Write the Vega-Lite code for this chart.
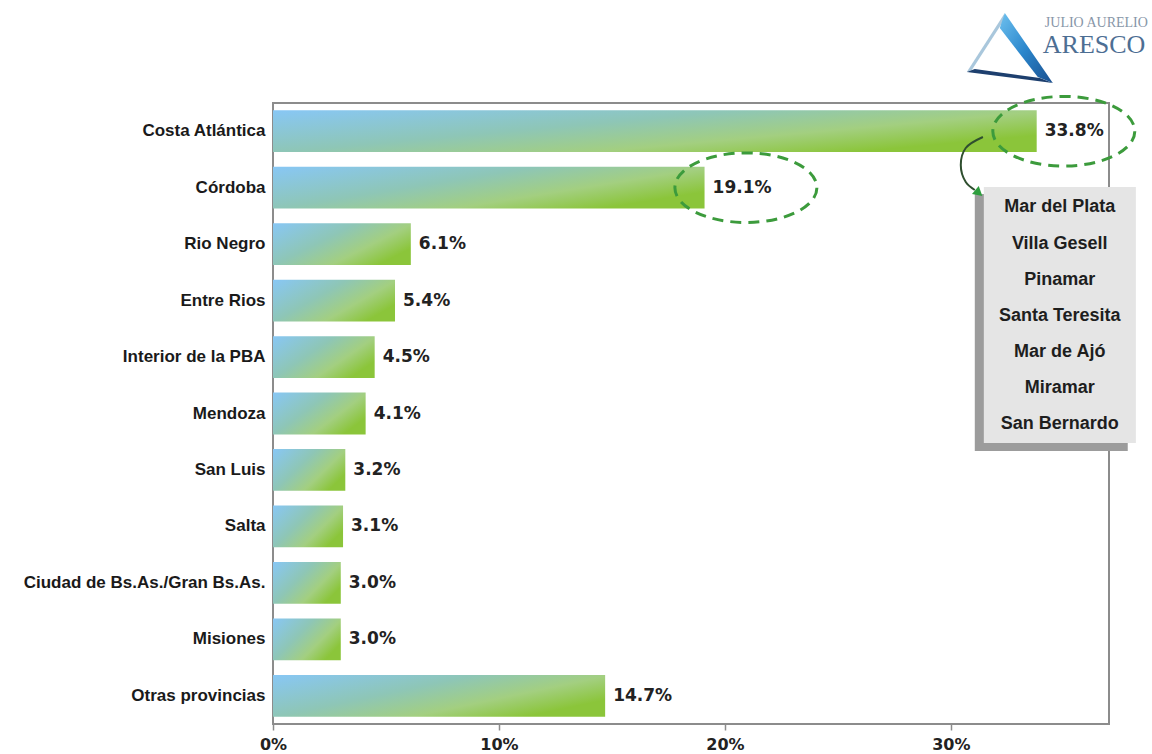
{
  "$schema": "https://vega.github.io/schema/vega-lite/v6.json",
  "width": 836,
  "height": 621,
  "autosize": {"type": "none"},
  "padding": {"left": 273, "top": 103, "right": 43, "bottom": 30},
  "background": "white",
  "config": {
    "view": {"stroke": "#8c8c8c", "strokeWidth": 2, "fill": "white"},
    "scale": {"bandPaddingInner": 0.26, "bandPaddingOuter": 0.13}
  },
  "datasets": {
    "shares": [
      {"cat": "Costa Atlántica", "share": 0.338},
      {"cat": "Córdoba", "share": 0.191},
      {"cat": "Rio Negro", "share": 0.061},
      {"cat": "Entre Rios", "share": 0.054},
      {"cat": "Interior de la PBA", "share": 0.045},
      {"cat": "Mendoza", "share": 0.041},
      {"cat": "San Luis", "share": 0.032},
      {"cat": "Salta", "share": 0.031},
      {"cat": "Ciudad de Bs.As./Gran Bs.As.", "share": 0.030},
      {"cat": "Misiones", "share": 0.030},
      {"cat": "Otras provincias", "share": 0.147}
    ],
    "rings": [
      {"cat": "Costa Atlántica", "cx": 0.350},
      {"cat": "Córdoba", "cx": 0.2093}
    ],
    "shadow": [{"x1": 0.3106, "x2": 0.3783, "y1": 1.612, "y2": 6.165}],
    "box": [{"x1": 0.3146, "x2": 0.3819, "y1": 1.488, "y2": 6.023}],
    "places": [
      {"name": "Mar del Plata", "px": 0.3482, "py": 1.842},
      {"name": "Villa Gesell", "px": 0.3482, "py": 2.489},
      {"name": "Pinamar", "px": 0.3482, "py": 3.136},
      {"name": "Santa Teresita", "px": 0.3482, "py": 3.773},
      {"name": "Mar de Ajó", "px": 0.3482, "py": 4.411},
      {"name": "Miramar", "px": 0.3482, "py": 5.049},
      {"name": "San Bernardo", "px": 0.3482, "py": 5.686}
    ],
    "arrow": [
      {"i": 0, "ax": 0.3142, "ay": 0.602},
      {"i": 1, "ax": 0.3066, "ay": 0.797},
      {"i": 2, "ax": 0.3044, "ay": 1.098},
      {"i": 3, "ax": 0.3066, "ay": 1.399},
      {"i": 4, "ax": 0.3106, "ay": 1.541}
    ],
    "arrowhead": [{"ax": 0.3124, "ay": 1.594}],
    "logo": [{"lx": 0.3261, "ly": -0.974}],
    "logotext": [
      {"t": "JULIO AURELIO", "tx": 0.3416, "ty": -1.417, "kind": "small"},
      {"t": "ARESCO", "tx": 0.3407, "ty": -1.028, "kind": "big"}
    ]
  },
  "layer": [
    {
      "layer": [
        {
          "data": {"name": "shares"},
          "mark": {
            "type": "bar",
            "fill": {
              "gradient": "linear",
              "x1": 0, "y1": 0, "x2": 1, "y2": 0.6,
              "stops": [
                {"offset": 0, "color": "#88C7F5"},
                {"offset": 0.45, "color": "#8EC6B6"},
                {"offset": 0.75, "color": "#A3CF80"},
                {"offset": 1, "color": "#8BC53A"}
              ]
            }
          },
          "encoding": {
            "y": {
              "field": "cat", "type": "nominal",
              "scale": {"domain": ["Costa Atlántica", "Córdoba", "Rio Negro", "Entre Rios", "Interior de la PBA", "Mendoza", "San Luis", "Salta", "Ciudad de Bs.As./Gran Bs.As.", "Misiones", "Otras provincias"]},
              "axis": {
                "title": null, "ticks": false, "domain": false, "grid": false,
                "labelFont": "Liberation Sans", "labelFontWeight": "bold",
                "labelFontSize": 17, "labelColor": "#1a1a1a", "labelPadding": 8,
                "labelLimit": 400
              }
            },
            "x": {
              "field": "share", "type": "quantitative",
              "scale": {"domain": [0, 0.37], "nice": false},
              "axis": {
                "title": null, "values": [0, 0.1, 0.2, 0.3], "format": ".0%",
                "grid": false, "domain": false, "ticks": true, "labelFlush": false,
                "tickColor": "#8c8c8c", "tickSize": 6, "tickWidth": 1.5,
                "labelFont": "DejaVu Sans", "labelFontWeight": "bold",
                "labelFontSize": 16, "labelColor": "#222222", "labelPadding": 6
              }
            }
          }
        },
        {
          "data": {"name": "shares"},
          "mark": {
            "type": "text", "align": "left", "baseline": "middle", "dx": 8,
            "font": "DejaVu Sans", "fontWeight": "bold", "fontSize": 17, "color": "#222222"
          },
          "encoding": {
            "y": {"field": "cat", "type": "nominal", "scale": {"domain": ["Costa Atlántica", "Córdoba", "Rio Negro", "Entre Rios", "Interior de la PBA", "Mendoza", "San Luis", "Salta", "Ciudad de Bs.As./Gran Bs.As.", "Misiones", "Otras provincias"]}},
            "x": {"field": "share", "type": "quantitative", "scale": {"domain": [0, 0.37], "nice": false}},
            "text": {"field": "share", "type": "quantitative", "format": ".1%"}
          }
        },
        {
          "data": {"name": "rings"},
          "mark": {
            "type": "point", "filled": false,
            "shape": "M1,0C1,0.271,0.552,0.49,0,0.49C-0.552,0.49,-1,0.271,-1,0C-1,-0.271,-0.552,-0.49,0,-0.49C0.552,-0.49,1,-0.271,1,0Z",
            "size": 20164, "stroke": "#3C9B3C", "strokeWidth": 3,
            "strokeDash": [11, 7], "opacity": 1
          },
          "encoding": {
            "y": {"field": "cat", "type": "nominal", "scale": {"domain": ["Costa Atlántica", "Córdoba", "Rio Negro", "Entre Rios", "Interior de la PBA", "Mendoza", "San Luis", "Salta", "Ciudad de Bs.As./Gran Bs.As.", "Misiones", "Otras provincias"]}},
            "x": {"field": "cx", "type": "quantitative", "scale": {"domain": [0, 0.37], "nice": false}}
          }
        }
      ]
    },
    {
      "layer": [
        {
          "data": {"name": "shadow"},
          "mark": {"type": "rect", "fill": "#9c9c9c"},
          "encoding": {
            "x": {"field": "x1", "type": "quantitative", "scale": {"domain": [0, 0.37], "nice": false}, "title": null},
            "x2": {"field": "x2"},
            "y": {"field": "y1", "type": "quantitative", "scale": {"domain": [0, 11], "reverse": true, "nice": false, "zero": false}, "axis": null},
            "y2": {"field": "y2"}
          }
        },
        {
          "data": {"name": "box"},
          "mark": {"type": "rect", "fill": "#e5e5e5"},
          "encoding": {
            "x": {"field": "x1", "type": "quantitative", "scale": {"domain": [0, 0.37], "nice": false}, "title": null},
            "x2": {"field": "x2"},
            "y": {"field": "y1", "type": "quantitative", "scale": {"domain": [0, 11], "reverse": true, "nice": false, "zero": false}, "axis": null},
            "y2": {"field": "y2"}
          }
        },
        {
          "data": {"name": "places"},
          "mark": {
            "type": "text", "align": "center", "baseline": "middle",
            "font": "Liberation Sans", "fontWeight": "bold", "fontSize": 18, "color": "#1e1e1e"
          },
          "encoding": {
            "x": {"field": "px", "type": "quantitative", "scale": {"domain": [0, 0.37], "nice": false}, "title": null},
            "y": {"field": "py", "type": "quantitative", "scale": {"domain": [0, 11], "reverse": true, "nice": false, "zero": false}, "axis": null},
            "text": {"field": "name"}
          }
        },
        {
          "data": {"name": "arrow"},
          "mark": {"type": "line", "interpolate": "catmull-rom", "stroke": "#2f4f2f", "strokeWidth": 2},
          "encoding": {
            "x": {"field": "ax", "type": "quantitative", "scale": {"domain": [0, 0.37], "nice": false}, "title": null},
            "y": {"field": "ay", "type": "quantitative", "scale": {"domain": [0, 11], "reverse": true, "nice": false, "zero": false}, "axis": null},
            "order": {"field": "i", "type": "quantitative"}
          }
        },
        {
          "data": {"name": "arrowhead"},
          "mark": {"type": "point", "shape": "triangle-right", "filled": true, "fill": "#2e9e3e", "size": 110, "angle": 40, "opacity": 1},
          "encoding": {
            "x": {"field": "ax", "type": "quantitative", "scale": {"domain": [0, 0.37], "nice": false}, "title": null},
            "y": {"field": "ay", "type": "quantitative", "scale": {"domain": [0, 11], "reverse": true, "nice": false, "zero": false}, "axis": null}
          }
        },
        {
          "data": {"name": "logo"},
          "mark": {
            "type": "point", "filled": true, "opacity": 1, "size": 8100,
            "shape": "M-0.111,-0.778L-0.956,0.533L-0.844,0.489L-0.156,-0.578Z",
            "fill": "#a9c7dc"
          },
          "encoding": {
            "x": {"field": "lx", "type": "quantitative", "scale": {"domain": [0, 0.37], "nice": false}, "title": null},
            "y": {"field": "ly", "type": "quantitative", "scale": {"domain": [0, 11], "reverse": true, "nice": false, "zero": false}, "axis": null}
          }
        },
        {
          "data": {"name": "logo"},
          "mark": {
            "type": "point", "filled": true, "opacity": 1, "size": 8100,
            "shape": "M-0.956,0.533L0.956,0.778L0.667,0.667L-0.778,0.467Z",
            "fill": "#1d3f6e"
          },
          "encoding": {
            "x": {"field": "lx", "type": "quantitative", "scale": {"domain": [0, 0.37], "nice": false}, "title": null},
            "y": {"field": "ly", "type": "quantitative", "scale": {"domain": [0, 11], "reverse": true, "nice": false, "zero": false}, "axis": null}
          }
        },
        {
          "data": {"name": "logo"},
          "mark": {
            "type": "point", "filled": true, "opacity": 1, "size": 8100,
            "shape": "M-0.111,-0.778L0.956,0.778L0.622,0.644L-0.222,-0.444Z",
            "fill": {
              "gradient": "linear", "x1": 0, "y1": 0, "x2": 1, "y2": 1,
              "stops": [
                {"offset": 0, "color": "#6ec1ef"},
                {"offset": 0.5, "color": "#2a86cc"},
                {"offset": 1, "color": "#1a4f8f"}
              ]
            }
          },
          "encoding": {
            "x": {"field": "lx", "type": "quantitative", "scale": {"domain": [0, 0.37], "nice": false}, "title": null},
            "y": {"field": "ly", "type": "quantitative", "scale": {"domain": [0, 11], "reverse": true, "nice": false, "zero": false}, "axis": null}
          }
        },
        {
          "data": {"name": "logotext"},
          "transform": [{"filter": "datum.kind === 'small'"}],
          "mark": {"type": "text", "align": "left", "baseline": "middle", "font": "Liberation Serif", "fontSize": 14, "color": "#8796a8"},
          "encoding": {
            "x": {"field": "tx", "type": "quantitative", "scale": {"domain": [0, 0.37], "nice": false}, "title": null},
            "y": {"field": "ty", "type": "quantitative", "scale": {"domain": [0, 11], "reverse": true, "nice": false, "zero": false}, "axis": null},
            "text": {"field": "t"}
          }
        },
        {
          "data": {"name": "logotext"},
          "transform": [{"filter": "datum.kind === 'big'"}],
          "mark": {"type": "text", "align": "left", "baseline": "middle", "font": "Liberation Serif", "fontSize": 26, "color": "#4d6e93"},
          "encoding": {
            "x": {"field": "tx", "type": "quantitative", "scale": {"domain": [0, 0.37], "nice": false}, "title": null},
            "y": {"field": "ty", "type": "quantitative", "scale": {"domain": [0, 11], "reverse": true, "nice": false, "zero": false}, "axis": null},
            "text": {"field": "t"}
          }
        }
      ]
    }
  ],
  "resolve": {"scale": {"y": "independent"}}
}
